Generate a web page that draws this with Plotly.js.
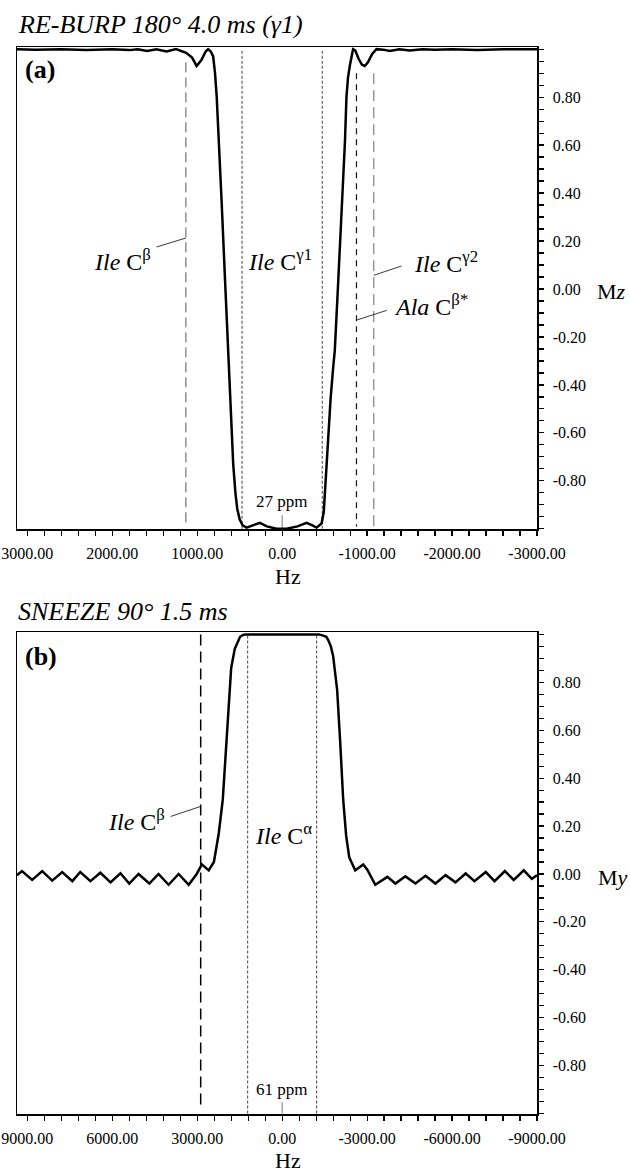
<!DOCTYPE html>
<html>
<head>
<meta charset="utf-8">
<script src="https://cdn.plot.ly/plotly-3.0.1.min.js"></script>
<style>html,body{margin:0;padding:0;background:#fff;}#chart{width:630px;height:1172px;}</style>
</head>
<body>
<div id="chart"></div>
<script>
// ---------- Panel (a): RE-BURP 180° 4.0 ms, Mz vs offset (Hz) ----------
const reburpHz = [3121, 2900, 2600, 2300, 2000, 1800, 1700, 1590, 1480, 1360, 1250, 1130, 1060, 1007, 950, 900, 871, 840, 812, 790, 770, 750, 713, 675, 635, 600, 576, 550, 529, 500, 466, 419, 340, 262, 180, 66, 0, -52, -180, -287, -350, -405, -464, -490, -500, -514, -540, -570, -600, -620, -660, -710, -740, -757, -775, -796, -815, -835, -860, -900, -940, -973, -1010, -1060, -1111, -1190, -1267, -1380, -1502, -1650, -1800, -2000, -2300, -2600, -3000];
const reburpMz = [1.0, 0.998, 1.0, 0.997, 1.0, 0.996, 1.0, 0.992, 1.0, 0.99, 1.0, 0.985, 0.965, 0.93, 0.955, 0.99, 1.0, 0.99, 0.97, 0.9, 0.8, 0.66, 0.37, 0.06, -0.26, -0.55, -0.73, -0.85, -0.915, -0.96, -0.985, -0.995, -0.985, -0.975, -0.99, -1.0, -1.0, -1.0, -0.99, -0.975, -0.985, -0.995, -0.978, -0.93, -0.87, -0.78, -0.62, -0.46, -0.33, -0.255, 0.03, 0.37, 0.62, 0.8, 0.88, 0.93, 0.97, 1.0, 0.995, 0.96, 0.935, 0.93, 0.945, 0.98, 1.0, 0.998, 0.992, 1.0, 0.994, 1.0, 0.998, 1.0, 0.997, 1.0, 1.0];

// resonance markers (Hz) in panel (a)
const a_IleCbeta = 1133;
const a_IleCgamma1 = [472, -472];
const a_AlaCbeta = -875;
const a_IleCgamma2 = -1079;
const a_center = 0;

const a_xTickVals = [3000, 2000, 1000, 0, -1000, -2000, -3000];
const a_xTickText = ['3000.00', '2000.00', '1000.00', '0.00', '-1000.00', '-2000.00', '-3000.00'];

// ---------- Panel (b): SNEEZE 90° 1.5 ms, My vs offset (Hz) ----------
const sneezeHz = [9364, 9187, 8830, 8474, 8120, 7768, 7410, 7130, 6770, 6420, 6060, 5711, 5400, 5072, 4690, 4366, 4010, 3656, 3300, 3018, 2834, 2594, 2410, 2238, 2097, 2000, 1913, 1800, 1673, 1560, 1486, 1380, 1288, 0, -1300, -1447, -1560, -1631, -1720, -1800, -1941, -2050, -2156, -2260, -2368, -2580, -2865, -3007, -3289, -3716, -3999, -4352, -4708, -5061, -5414, -5771, -6120, -6480, -6791, -7190, -7500, -7867, -8178, -8534, -8817, -9000];
const sneezeMy = [-0.005, 0.012, -0.025, 0.012, -0.028, 0.008, -0.03, 0.008, -0.03, 0.005, -0.035, 0.003, -0.04, 0.0, -0.04, 0.0, -0.045, 0.0, -0.045, 0.0, 0.04, 0.015, 0.05, 0.17, 0.31, 0.5, 0.69, 0.86, 0.94, 0.975, 0.99, 0.998, 1.0, 1.0, 1.0, 0.995, 0.99, 0.975, 0.95, 0.91, 0.77, 0.55, 0.31, 0.16, 0.07, 0.015, 0.04, 0.018, -0.045, -0.012, -0.04, -0.01, -0.04, -0.008, -0.04, -0.005, -0.035, 0.002, -0.03, 0.008, -0.03, 0.012, -0.025, 0.015, -0.02, -0.005];

const b_IleCbeta = 2877;
const b_IleCalpha = [1218, -1218];
const b_center = 0;

const b_xTickVals = [9000, 6000, 3000, 0, -3000, -6000, -9000];
const b_xTickText = ['9000.00', '6000.00', '3000.00', '0.00', '-3000.00', '-6000.00', '-9000.00'];

// shared y ticks
const yTickVals = [0.8, 0.6, 0.4, 0.2, 0.0, -0.2, -0.4, -0.6, -0.8];
const yTickText = ['0.80', '0.60', '0.40', '0.20', '0.00', '-0.20', '-0.40', '-0.60', '-0.80'];

// ---------- figure ----------
const SERIF = 'Liberation Serif, Times New Roman, serif';

const traces = [
  {x: reburpHz, y: reburpMz, xaxis: 'x', yaxis: 'y', type: 'scatter', mode: 'lines',
   line: {color: 'black', width: 2.5}, hoverinfo: 'skip'},
  {x: sneezeHz, y: sneezeMy, xaxis: 'x2', yaxis: 'y2', type: 'scatter', mode: 'lines',
   line: {color: 'black', width: 2.5}, hoverinfo: 'skip'}
];

function xAxis(range, vals, text, minorDt, anchor, domain) {
  return {
    domain: domain, range: range, anchor: anchor, autorange: false,
    tickmode: 'array', tickvals: vals, ticktext: text,
    ticks: 'outside', ticklen: 5, tickwidth: 1.2, tickcolor: 'black',
    minor: {tickmode: 'linear', tick0: 0, dtick: minorDt, ticks: 'outside', ticklen: 5, tickwidth: 1.2, tickcolor: 'black', showgrid: false},
    showline: true, mirror: true, linecolor: 'black', linewidth: 1.5,
    showgrid: false, zeroline: false, ticklabelstandoff: 4,
    tickfont: {family: SERIF, size: 16, color: 'black'}
  };
}
function yAxis(domain, anchor) {
  return {
    domain: domain, range: [-1.002, 1.009], anchor: anchor, side: 'right', autorange: false,
    tickmode: 'array', tickvals: yTickVals, ticktext: yTickText,
    ticks: 'outside', ticklen: 5, tickwidth: 1.2, tickcolor: 'black',
    minor: {tickmode: 'linear', tick0: 0, dtick: 0.05, ticks: 'outside', ticklen: 5, tickwidth: 1.2, tickcolor: 'black', showgrid: false},
    showline: true, mirror: true, linecolor: 'black', linewidth: 1.5,
    showgrid: false, zeroline: false, ticklabelstandoff: 6,
    tickfont: {family: SERIF, size: 16, color: 'black'}
  };
}

function vline(xr, yr, x, y0, y1, color, width, dash) {
  return {type: 'line', xref: xr, yref: yr, x0: x, x1: x, y0: y0, y1: y1, layer: 'below',
          line: {color: color, width: width, dash: dash}};
}
function seg(xr, yr, x0, y0, x1, y1) {
  return {type: 'line', xref: xr, yref: yr, x0: x0, x1: x1, y0: y0, y1: y1,
          line: {color: '#222', width: 0.9}};
}

const shapes = [
  // panel (a)
  vline('x', 'y', a_IleCgamma1[0], -1.0, 1.0, '#444', 1, '3px,2px'),
  vline('x', 'y', a_IleCgamma1[1], -1.0, 1.0, '#444', 1, '3px,2px'),
  vline('x', 'y', a_IleCbeta, 0.945, -0.99, '#555', 1, '10px,5px'),
  vline('x', 'y', a_AlaCbeta, 0.9, -0.99, '#111', 1.2, '6px,5px'),
  vline('x', 'y', a_IleCgamma2, 0.9, -0.99, '#666', 1, '11px,6px'),
  vline('x', 'y', a_center, -1.0, -0.943, '#777', 1, 'solid'),
  seg('x', 'y', 1478, 0.175, a_IleCbeta, 0.2125),
  seg('x', 'y', a_IleCgamma2, 0.057, -1405, 0.096),
  seg('x', 'y', a_AlaCbeta, -0.13, -1232, -0.089),
  // panel (b)
  vline('x2', 'y2', b_IleCalpha[0], -1.0, 1.0, '#444', 1, '3px,2px'),
  vline('x2', 'y2', b_IleCalpha[1], -1.0, 1.0, '#444', 1, '3px,2px'),
  vline('x2', 'y2', b_IleCbeta, 1.0, -0.97, 'black', 1.5, '11px,6px'),
  vline('x2', 'y2', b_center, -1.0, -0.953, '#777', 1, 'solid'),
  seg('x2', 'y2', 3939, 0.240, b_IleCbeta, 0.282)
];

function ann(xr, yr, x, y, text, size, xanchor, extra) {
  return Object.assign({xref: xr, yref: yr, x: x, y: y, text: text, showarrow: false,
    xanchor: xanchor || 'center', yanchor: 'middle',
    font: {family: SERIF, size: size, color: 'black'}}, extra || {});
}

const annotations = [
  // panel (a)
  ann('x domain', 'y domain', 0.0115, 0.954, '<b>(a)</b>', 26, 'left'),
  ann('x', 'y', 1521, 0.12, '<i>Ile</i> C<sup>β</sup>', 24, 'right'),
  ann('x', 'y', 20, 0.12, '<i>Ile</i> C<sup>γ1</sup>', 24, 'center'),
  ann('x', 'y', -1526, 0.111, '<i>Ile</i> C<sup>γ2</sup>', 24, 'left'),
  ann('x', 'y', -1291, -0.068, '<i>Ala</i> C<sup>β*</sup>', 24, 'left'),
  ann('x', 'y', 7, -0.885, '27 ppm', 17, 'center'),
  ann('paper', 'paper', 0.521, 0.5042, 'Hz', 22, 'center'),
  ann('paper', 'paper', 1.144, 0.7704, 'M<i>z</i>', 22, 'center'),
  // panel (b)
  ann('paper', 'paper', -0.002, 0.4714, '<i>SNEEZE 90° 1.5 ms</i>', 26, 'left'),
  ann('x2 domain', 'y2 domain', 0.0115, 0.949, '<b>(b)</b>', 26, 'left'),
  ann('x2', 'y2', 4080, 0.227, '<i>Ile</i> C<sup>β</sup>', 24, 'right'),
  ann('x2', 'y2', -60, 0.168, '<i>Ile</i> C<sup>α</sup>', 24, 'center'),
  ann('x2', 'y2', 21, -0.90, '61 ppm', 17, 'center'),
  ann('paper', 'paper', 0.521, -0.044, 'Hz', 22, 'center'),
  ann('paper', 'paper', 1.146, 0.2212, 'M<i>y</i>', 22, 'center')
];

const layout = {
  width: 630, height: 1172,
  margin: {l: 17, r: 93, t: 47, b: 58, pad: 0},
  paper_bgcolor: 'white', plot_bgcolor: 'white',
  showlegend: false,
  font: {family: SERIF, size: 16, color: 'black'},
  title: {text: '<i>RE-BURP 180° 4.0 ms (γ1)</i>', xref: 'container', yref: 'container',
          x: 19 / 630, xanchor: 'left', y: 1 - 24 / 1172, yanchor: 'middle',
          font: {family: SERIF, size: 26, color: 'black'}},
  xaxis: xAxis([3121, -3000], a_xTickVals, a_xTickText, 200, 'y', [0, 1]),
  yaxis: yAxis([0.548, 1], 'x'),
  xaxis2: xAxis([9364, -9000], b_xTickVals, b_xTickText, 600, 'y2', [0, 1]),
  yaxis2: yAxis([0, 0.4515], 'x2'),
  shapes: shapes,
  annotations: annotations
};

Plotly.newPlot('chart', traces, layout, {displayModeBar: false, staticPlot: true});
</script>
</body>
</html>
